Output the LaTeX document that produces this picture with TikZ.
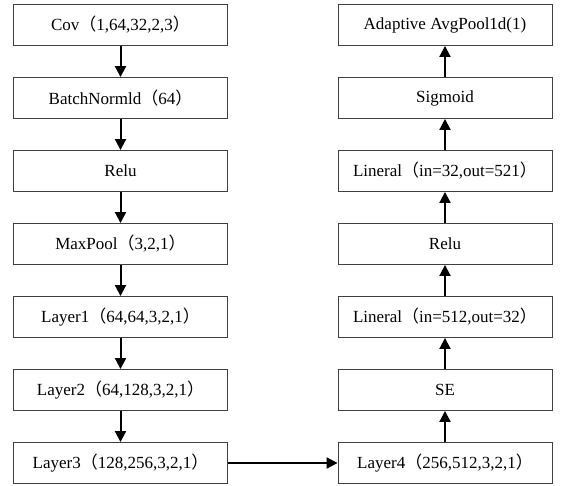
\documentclass[tikz,border=0pt]{standalone}
\usepackage{fontspec}
\setmainfont{Liberation Serif}
\newfontfamily\cjk{Noto Sans CJK SC}
\usetikzlibrary{arrows.meta}
\newcommand{\lp}{{\cjk （}}
\newcommand{\rp}{{\cjk ）}}
\begin{document}
\begin{tikzpicture}[x=1pt,y=-1pt,
  blk/.style={draw=black!75,line width=0.9pt,minimum width=214pt,minimum height=41pt,inner sep=0pt,font=\fontsize{17}{19}\selectfont},
  arr/.style={line width=2pt,-{Triangle[width=11pt,length=11pt]}}]
\useasboundingbox (0,0) rectangle (563,486);
\node[blk] (a1) at (120.5,25) {Cov\lp 1,64,32,2,3\rp};
\node[blk] (a2) at (120.5,98) {BatchNormld\lp 64\rp};
\node[blk] (a3) at (120.5,171) {Relu};
\node[blk] (a4) at (120.5,244) {MaxPool\lp 3,2,1\rp};
\node[blk] (a5) at (120.5,317) {Layer1\lp 64,64,3,2,1\rp};
\node[blk] (a6) at (120.5,390) {Layer2\lp 64,128,3,2,1\rp};
\node[blk] (a7) at (120.5,463) {Layer3\lp 128,256,3,2,1\rp};
\node[blk] (b1) at (445,25) {Adaptive AvgPool1d(1)};
\node[blk] (b2) at (445,98) {Sigmoid};
\node[blk] (b3) at (445,171) {Lineral\lp in=32,out=521\rp};
\node[blk] (b4) at (445,244) {Relu};
\node[blk] (b5) at (445,317) {Lineral\lp in=512,out=32\rp};
\node[blk] (b6) at (445,390) {SE};
\node[blk] (b7) at (445,463) {Layer4\lp 256,512,3,2,1\rp};
\foreach \i/\j in {1/2,2/3,3/4,4/5,5/6,6/7}{
  \draw[arr] (a\i.south) -- (a\j.north);
  \draw[arr] (b\j.north) -- (b\i.south);
}
\draw[arr] (a7.east) -- (b7.west);
\end{tikzpicture}
\end{document}
